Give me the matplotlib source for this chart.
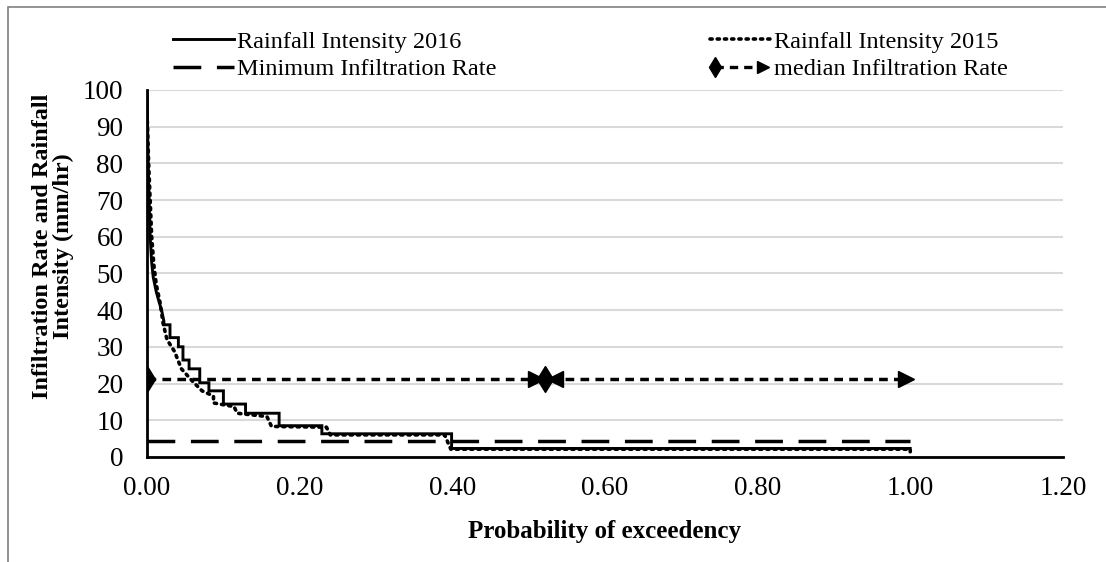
import matplotlib
matplotlib.use('Agg')
import matplotlib.pyplot as plt
from matplotlib.lines import Line2D
from matplotlib.legend_handler import HandlerBase
from matplotlib.patches import Rectangle

plt.rcParams['font.family'] = ['Liberation Serif', 'DejaVu Serif']

# Rainfall intensity 2016 (step curve)
x_2016 = [0.000, 0.001, 0.002, 0.003, 0.004, 0.006, 0.008, 0.012, 0.016, 0.019,
          0.022, 0.022, 0.030, 0.030, 0.041, 0.041, 0.047, 0.047, 0.055, 0.055,
          0.069, 0.069, 0.081, 0.081, 0.100, 0.100, 0.129, 0.129, 0.173, 0.173,
          0.229, 0.229, 0.399, 0.399, 1.000]
y_2016 = [100.0, 85.0, 75.0, 67.0, 60.0, 53.0, 49.0, 45.0, 42.0, 40.0,
          37.0, 36.0, 36.0, 32.5, 32.5, 30.0, 30.0, 26.4, 26.4, 24.0,
          24.0, 20.2, 20.2, 18.0, 18.0, 14.4, 14.4, 11.9, 11.9, 8.5,
          8.5, 6.3, 6.3, 2.3, 2.3]

# Rainfall intensity 2015
x_2015 = [0.000, 0.002, 0.004, 0.006, 0.009, 0.012, 0.017, 0.021, 0.026, 0.036,
          0.045, 0.060, 0.072, 0.087, 0.087, 0.114, 0.118, 0.157, 0.163, 0.235,
          0.240, 0.390, 0.393, 0.398, 1.000, 1.000]
y_2015 = [93.5, 80.0, 70.0, 60.0, 52.0, 47.0, 42.0, 36.4, 32.0, 28.7,
          24.0, 20.5, 18.0, 16.6, 14.7, 13.7, 11.9, 11.0, 8.3, 8.1,
          6.0, 6.0, 4.5, 2.1, 2.1, 1.4]

# Infiltration rates
min_x = [0.0, 1.0]
min_y = [4.4, 4.4]
median_x = [0.0, 0.51, 0.522, 0.535, 0.995]
median_y = [21.2, 21.2, 21.2, 21.2, 21.2]
median_markers = ['d', '>', 'd', '<', '>']

DOT = (0, (0.6, 1.4))
LONGDASH = (0, (8, 4.5))
SHORTDASH = (0, (2.5, 1.8))


class DiamondArrowHandler(HandlerBase):
    def create_artists(self, legend, orig_handle, xdescent, ydescent,
                       width, height, fontsize, trans):
        y = height / 2 - ydescent
        x0, x1 = -xdescent, width - xdescent
        line = Line2D([x0 + 4, x1 - 4], [y, y], color='black', lw=2.4, linestyle=SHORTDASH)
        m1 = Line2D([x0 + 4], [y], marker='d', ms=10, color='black', linestyle='none')
        m2 = Line2D([x1 - 5], [y], marker='>', ms=9, color='black', linestyle='none')
        for a in (line, m1, m2):
            a.set_transform(trans)
        return [line, m1, m2]


fig = plt.figure(figsize=(11.06, 5.62), dpi=100)
ax = fig.add_axes([0.133, 0.187, 0.828, 0.653])

ax.plot(x_2016, y_2016, color='black', lw=2.1, solid_joinstyle='miter', zorder=4)
ax.plot(x_2015, y_2015, color='black', lw=2.6, linestyle=DOT,
        dash_capstyle='round', zorder=4)
ax.plot(min_x, min_y, color='black', lw=2.5, linestyle=LONGDASH, zorder=3)
ax.plot(median_x, median_y, color='black', lw=2.5, linestyle=SHORTDASH, zorder=3)
for mx, my, mk in zip(median_x, median_y, median_markers):
    ax.plot(mx, my, marker=mk, color='black', ms=13 if mk == 'd' else 11, zorder=5)

ax.set_xlim(0, 1.2)
ax.set_ylim(0, 100)
ax.set_xticks([0, 0.2, 0.4, 0.6, 0.8, 1.0, 1.2])
ax.set_xticklabels(['0.00', '0.20', '0.40', '0.60', '0.80', '1.00', '1.20'])
ax.set_yticks(range(0, 101, 10))
ax.tick_params(length=0, labelsize=19.5)
ax.tick_params(axis='y', pad=17)
ax.tick_params(axis='x', pad=14)
ax.yaxis.grid(True, color='#d9d9d9', lw=1.5)
ax.set_axisbelow(True)
for s in ['top', 'right']:
    ax.spines[s].set_visible(False)
for s in ['left', 'bottom']:
    ax.spines[s].set_linewidth(2)

ax.set_xlabel('Probability of exceedency', fontsize=18, fontweight='bold')
ax.xaxis.set_label_coords(0.5, -0.172)
ax.set_ylabel('Infiltration Rate and Rainfall\nIntensity (mm/hr)', fontsize=17.5,
              fontweight='bold', linespacing=1.0)
ax.yaxis.set_label_coords(-0.080, 0.575)

# legend
h1 = Line2D([], [], color='black', lw=2.1)
h2 = Line2D([], [], color='black', lw=2.6, linestyle=DOT, dash_capstyle='round')
h3 = Line2D([], [], color='black', lw=2.5, linestyle=LONGDASH)
h4 = Line2D([], [], color='black')
fig.legend([h1, h3, h2, h4],
           ['Rainfall Intensity 2016', 'Minimum Infiltration Rate',
            'Rainfall Intensity 2015', 'median Infiltration Rate'],
           handler_map={h4: DiamondArrowHandler()},
           ncol=2, loc='upper left', bbox_to_anchor=(173 / 1106, 0.945), frameon=False,
           fontsize=17.5, handlelength=2.5, handletextpad=0.15, columnspacing=8.75,
           borderpad=0, borderaxespad=0, labelspacing=0.22)

# chart area border
fig.patches.append(Rectangle((8 / 1106, -0.1), 1.2, 1.1 - 7 / 562, transform=fig.transFigure,
                             fill=False, edgecolor='#808080', lw=1.2))

fig.savefig('out.png', dpi=100)
